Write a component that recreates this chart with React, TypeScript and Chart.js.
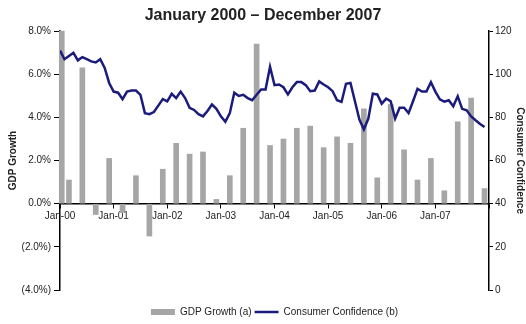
import React, { useEffect, useRef } from 'react';
import { Chart, registerables } from 'chart.js';

Chart.register(...registerables);

const titleText = 'January 2000 – December 2007';
const yearLabels = ['Jan-00', 'Jan-01', 'Jan-02', 'Jan-03', 'Jan-04', 'Jan-05', 'Jan-06', 'Jan-07'];
const gdpTickLabels = ['(4.0%)', '(2.0%)', '0.0%', '2.0%', '4.0%', '6.0%', '8.0%'];
const seriesNames = ['GDP Growth (a)', 'Consumer Confidence (b)'];
const axisTitles = ['GDP Growth', 'Consumer Confidence'];

// Quarterly GDP growth (%), first bar plotted at the start of Jan-00
const gdpGrowth = [
  8.0, 1.1, 6.3, -0.5, 2.1, -0.4, 1.3, -1.5,
  1.6, 2.8, 2.3, 2.4, 0.2, 1.3, 3.5, 7.4,
  2.7, 3.0, 3.5, 3.6, 2.6, 3.1, 2.8, 4.4,
  1.2, 4.6, 2.5, 1.1, 2.1, 0.6, 3.8, 4.9, 0.7,
];

// Monthly consumer confidence, Jan 2000 – Dec 2007
const consumerConfidence = [
  111, 107, 108.5, 110, 106.5, 108, 107, 106, 105.5, 107, 103, 96,
  92, 91.5, 88.5, 92, 92.5, 92.5, 90.5, 82, 81.5, 82.5, 85.5, 88.5,
  87.5, 91, 89, 92, 89, 84.5, 83.5, 81.5, 80.5, 83, 86, 84,
  80.5, 78, 82, 91.5, 90, 90.5, 89, 88, 90.5, 93, 93, 103.5,
  95, 95.3, 94, 90.7, 94, 96.4, 96.4, 95, 92.2, 92.5, 96.7, 95.3,
  94, 92.2, 88, 87.2, 95.6, 96, 87.5, 79, 74.5, 79.5, 91, 90.7,
  86.4, 88.7, 87.5, 79.5, 84.5, 84.5, 82, 87.5, 93.3, 92, 92, 96.4,
  92, 88.4, 87.3, 88, 85.2, 89.8, 84, 83.3, 80.5, 78.7, 77, 75.6,
];

const FONT = 'Liberation Sans, Arial, sans-serif';
const TEXT = '#222222';
const BAR = '#a6a6a6';
const LINE = '#1b1b7c';

export default function App() {
  const ref = useRef<HTMLCanvasElement>(null);

  useEffect(() => {
    const canvas = ref.current;
    if (!canvas) return;
    const gdpPoints = gdpGrowth.map((v, q) => ({ x: q === 0 ? 0.4 : 3 * q - 1, y: v }));
    const ccPoints = consumerConfidence.map((v, m) => ({ x: m, y: v }));

    const chart = new Chart(canvas, {
      data: {
        datasets: [
          {
            type: 'bar',
            label: seriesNames[0],
            data: gdpPoints,
            backgroundColor: BAR,
            borderWidth: 0,
            barThickness: 5,
            xAxisID: 'x',
            yAxisID: 'y',
            order: 2,
            clip: false,
          } as any,
          {
            type: 'line',
            label: seriesNames[1],
            data: ccPoints,
            borderColor: LINE,
            backgroundColor: LINE,
            borderWidth: 2.5,
            pointRadius: 0,
            tension: 0,
            xAxisID: 'x',
            yAxisID: 'y1',
            order: 1,
          } as any,
        ],
      },
      options: {
        responsive: false,
        animation: false,
        devicePixelRatio: 1,
        layout: { padding: { top: 0, bottom: -3, left: 0, right: 0 } },
        plugins: {
          title: {
            display: true,
            text: titleText,
            color: TEXT,
            font: { family: FONT, size: 16, weight: 'bold' },
            padding: { top: 6, bottom: 6 },
          },
          legend: {
            position: 'bottom',
            fullSize: false,
            title: {
              display: true,
              text: ' ',
              font: { size: 2 },
              padding: { top: 11.6, bottom: 0 },
            },
            labels: {
              usePointStyle: true,
              pointStyleWidth: 24,
              boxHeight: 6,
              padding: 3,
              color: TEXT,
              font: { family: FONT, size: 10 },
              sort: (a: any, b: any) => a.datasetIndex - b.datasetIndex,
              generateLabels: (c: any) => {
                const items = (Chart.defaults.plugins.legend.labels as any).generateLabels(c);
                return items.map((it: any) =>
                  it.datasetIndex === 0
                    ? { ...it, pointStyle: 'rect', lineWidth: 0, fillStyle: BAR }
                    : { ...it, pointStyle: 'line', lineWidth: 2.5, strokeStyle: LINE }
                );
              },
            },
          },
          tooltip: { enabled: false },
        },
        scales: {
          x: {
            type: 'linear',
            position: { y: 0 } as any,
            offset: false,
            min: 0,
            max: 96,
            grid: { drawOnChartArea: false, tickLength: 4, color: '#000', offset: false },
            border: { display: true, color: '#000', width: 1.5 },
            ticks: {
              stepSize: 12,
              autoSkip: false,
              maxRotation: 0,
              padding: 3,
              color: TEXT,
              font: { family: FONT, size: 10 },
              callback: (v: any) => yearLabels[Number(v) / 12] ?? '',
            },
          },
          y: {
            type: 'linear',
            position: 'left',
            min: -4,
            max: 8,
            grid: { drawOnChartArea: false, tickLength: 6, color: '#000' },
            border: { display: true, color: '#000', width: 1.5 },
            ticks: {
              stepSize: 2,
              padding: 3,
              color: TEXT,
              font: { family: FONT, size: 10 },
              callback: (v: any) => gdpTickLabels[(Number(v) + 4) / 2] ?? '',
            },
            title: {
              display: true,
              text: axisTitles[0],
              color: TEXT,
              font: { family: FONT, size: 10, weight: 'bold' },
              padding: { top: 7, bottom: 0 },
            },
            afterFit: (s: any) => { s.width = 60; },
          },
          y1: {
            type: 'linear',
            position: 'right',
            min: 0,
            max: 120,
            grid: { drawOnChartArea: false, tickLength: 4, color: '#000' },
            border: { display: true, color: '#000', width: 1.5 },
            ticks: {
              stepSize: 20,
              padding: 2,
              color: TEXT,
              font: { family: FONT, size: 10 },
            },
            title: {
              display: true,
              text: axisTitles[1],
              color: TEXT,
              font: { family: FONT, size: 10, weight: 'bold' },
              padding: { top: 0, bottom: 0 },
            },
            afterFit: (s: any) => { s.width = 37; },
          },
        },
      } as any,
    });
    return () => chart.destroy();
  }, []);

  return (
    <div style={{ position: 'absolute', left: 0, top: 0, width: 526, height: 324, background: '#fff', overflow: 'hidden' }}>
      <canvas ref={ref} width={526} height={324} style={{ display: 'block' }} />
    </div>
  );
}
